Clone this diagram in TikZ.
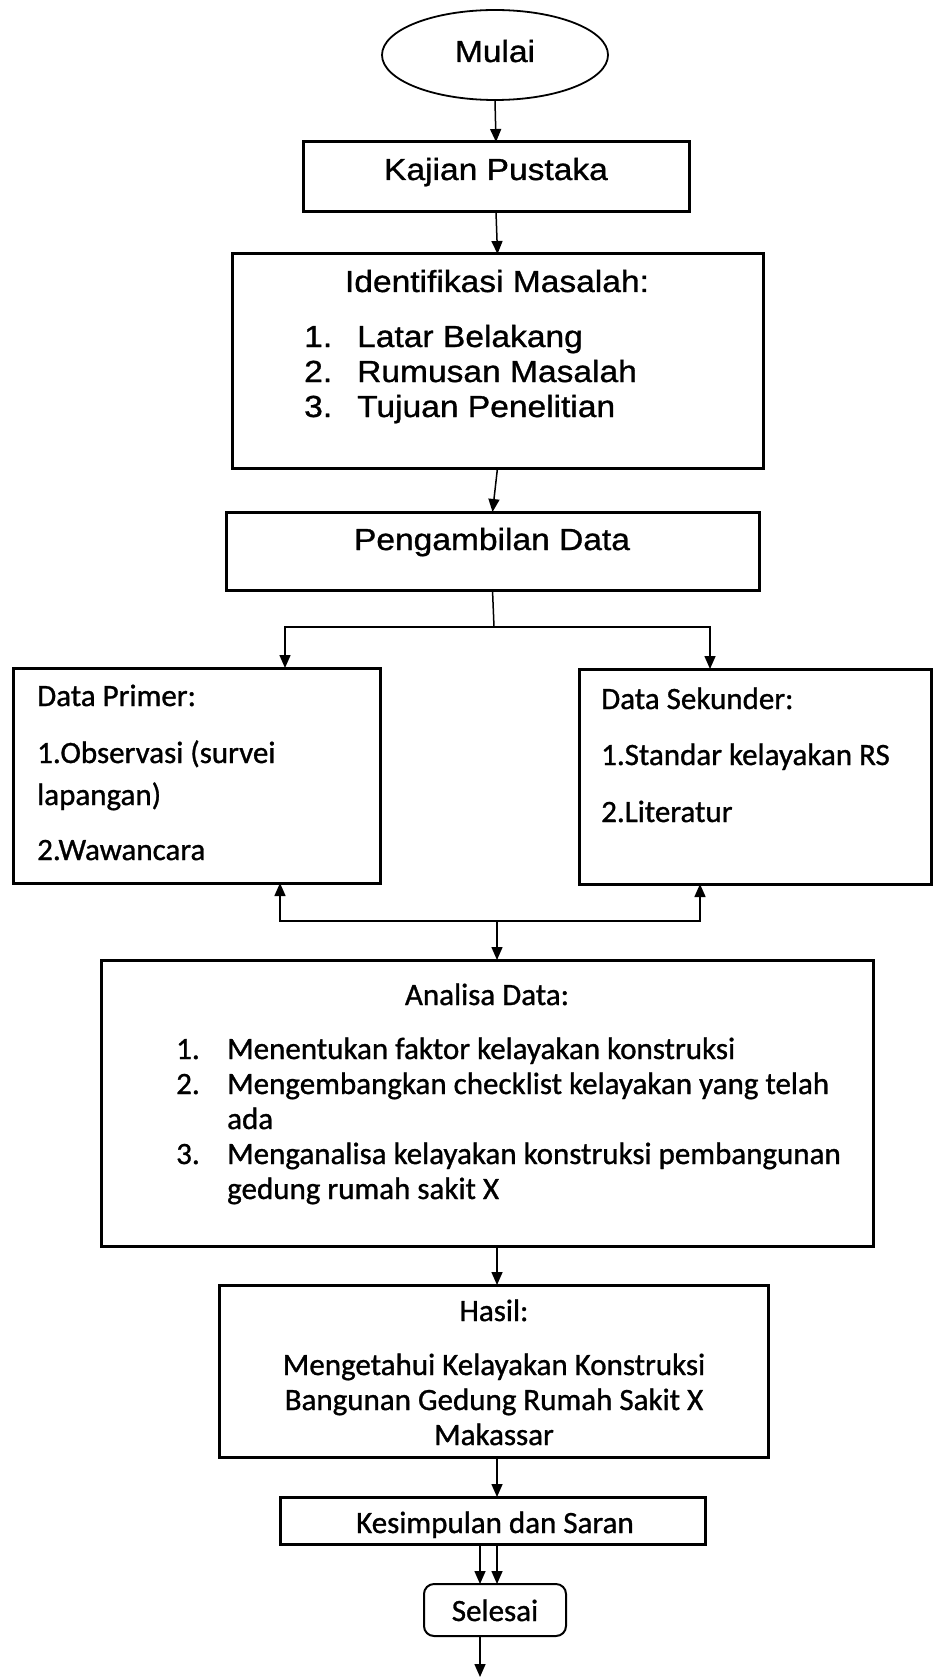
\documentclass[tikz,border=0pt]{standalone}
\usepackage{fontspec}
\setmainfont{Liberation Sans}[FakeStretch=1.1, FakeBold=1]
\newfontfamily\calibri{Carlito}[FakeBold=1]
\usetikzlibrary{shapes.geometric,arrows.meta}

\tikzset{
  box/.style={draw, rectangle, line width=3pt, inner sep=0pt, outer sep=0pt},
  arialtext/.style={font=\fontsize{30.5pt}{35pt}\selectfont, inner sep=0pt},
  calibritext/.style={font=\calibri\fontsize{31pt}{35pt}\selectfont, inner sep=0pt},
  link/.style={draw, line width=1.5pt}
}

\begin{document}
\begin{tikzpicture}[
                    x=1pt, y=-1pt,
                    >={Triangle[length=13pt,width=11pt]}
                    ]
    \useasboundingbox[fill=white] (0,0) rectangle (933,1677);

    % boxes
    \node [draw, ellipse, line width=1.8pt, minimum width=226pt, minimum height=90pt, inner sep=0pt] (mulai) at (495,55) {};
    \node [box, minimum width=386pt, minimum height=70pt] (kajian) at (496,177) {};
    \node [box, minimum width=531pt, minimum height=214pt] (identifikasi) at (497.5,361) {};
    \node [box, minimum width=533pt, minimum height=78pt] (pengambilan) at (492.5,551) {};
    \node [box, minimum width=367pt, minimum height=215pt] (primer) at (196.5,775.5) {};
    \node [box, minimum width=352pt, minimum height=215pt] (sekunder) at (755,776.5) {};
    \node [box, minimum width=772pt, minimum height=286pt] (analisa) at (487,1103) {};
    \node [box, minimum width=549pt, minimum height=172pt] (hasil) at (493.5,1371) {};
    \node [box, minimum width=425pt, minimum height=47pt] (kesimpulan) at (492.5,1520.5) {};
    \node [box, line width=2pt, rounded corners=10pt, minimum width=142pt, minimum height=52pt] (selesai) at (495,1610) {};

    % texts
    \node [arialtext, anchor=base] (mulai-txt) at (495,62) {Mulai};
    \node [arialtext, anchor=base] (kajian-txt) at (496,180) {Kajian Pustaka};
    \node [arialtext, anchor=base] (identifikasi-txt) at (497,292) {Identifikasi Masalah:};
    \node [arialtext, anchor=base west] (identifikasi-list) at (304,347) {%
        \begin{tabular}[t]{@{}p{53pt}@{}l@{}}
        1. & Latar Belakang\\
        2. & Rumusan Masalah\\
        3. & Tujuan Penelitian
        \end{tabular}};
    \node [arialtext, anchor=base] (pengambilan-txt) at (492,550) {Pengambilan Data};
    \node [calibritext, anchor=base west] (primer-txt) at (37,706) {%
        \begin{tabular}[t]{@{}l@{}}
        Data Primer:\\[22pt]
        1.Observasi (survei\\[7pt]
        lapangan)\\[20pt]
        2.Wawancara
        \end{tabular}};
    \node [calibritext, anchor=base west] (sekunder-txt) at (601,709) {%
        \begin{tabular}[t]{@{}l@{}}
        Data Sekunder:\\[21pt]
        1.Standar kelayakan RS\\[22pt]
        2.Literatur
        \end{tabular}};
    \node [calibritext, anchor=base] (analisa-txt) at (487,1005) {Analisa Data:};
    \node [calibritext, anchor=base west] (analisa-list) at (176,1059) {%
        \begin{tabular}[t]{@{}p{51pt}@{}l@{}}
        1. & Menentukan faktor kelayakan konstruksi\\
        2. & Mengembangkan checklist kelayakan yang telah\\
           & ada\\
        3. & Menganalisa kelayakan konstruksi pembangunan\\
           & gedung rumah sakit X
        \end{tabular}};
    \node [calibritext, anchor=base] (hasil-txt) at (494,1321) {Hasil:};
    \node [calibritext, anchor=base] (hasil-list) at (494,1375) {%
        \begin{tabular}[t]{@{}c@{}}
        Mengetahui Kelayakan Konstruksi\\
        Bangunan Gedung Rumah Sakit X\\
        Makassar
        \end{tabular}};
    \node [calibritext, anchor=base] (kesimpulan-txt) at (495,1533) {Kesimpulan dan Saran};
    \node [calibritext, anchor=base] (selesai-txt) at (495,1621) {Selesai};

    % connectors
    \coordinate (split) at (494,627);
    \coordinate (join) at (497,921);
    \coordinate (stop) at (480,1677);

    \draw[link,->] (mulai.south) -- (kajian.north);
    \draw[link,->] (kajian.south) -- (identifikasi.north);
    \draw[link,->] (identifikasi.south) -- (pengambilan.north);
    \draw[link] (pengambilan.south) -- (split);
    \draw[link,->] (split) -| ([xshift=88.5pt]primer.north);
    \draw[link,->] (split) -| ([xshift=-45pt]sekunder.north);
    \draw[link,->] (join) -| ([xshift=83.5pt]primer.south);
    \draw[link,->] (join) -| ([xshift=-55pt]sekunder.south);
    \draw[link,->] (join) -- (join |- analisa.north);
    \draw[link,->] (analisa.south -| join) -- (hasil.north -| join);
    \draw[link,->] (hasil.south -| join) -- (kesimpulan.north -| join);
    \draw[link,->] ([xshift=-15pt]selesai.north |- kesimpulan.south) -- ([xshift=-15pt]selesai.north);
    \draw[link,->] (kesimpulan.south -| join) -- (selesai.north -| join);
    \draw[link,->] ([xshift=-15pt]selesai.south) -- (stop);
\end{tikzpicture}
\end{document}
